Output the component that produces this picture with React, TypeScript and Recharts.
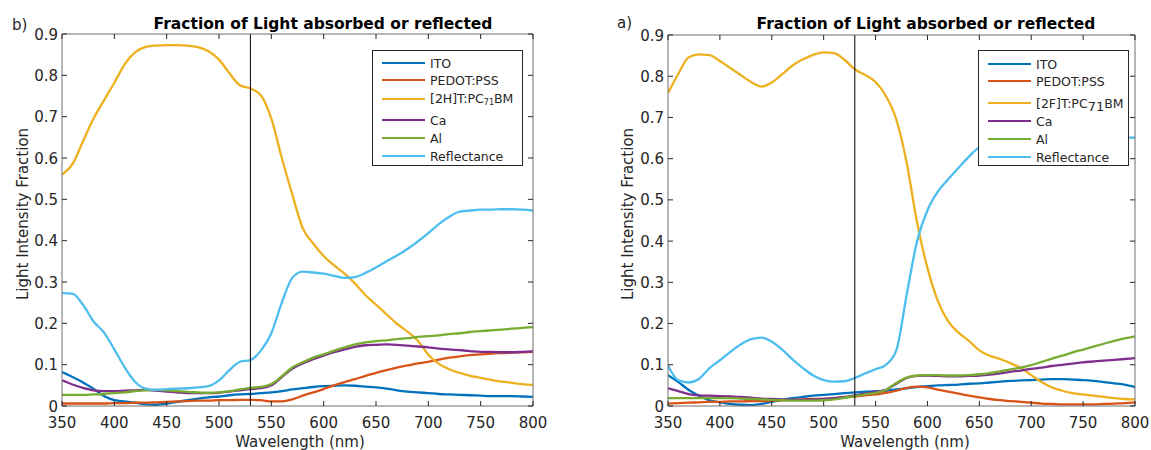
import React from "react";
import { LineChart, Line, XAxis, YAxis, ReferenceLine } from "recharts";

// wavelength grid (nm)
const wavelength = [
  350, 360, 370, 380, 390, 400, 410, 420, 430, 440,
  450, 460, 470, 480, 490, 500, 510, 520, 530, 540,
  550, 560, 570, 580, 590, 600, 610, 620, 630, 640,
  650, 660, 670, 680, 690, 700, 710, 720, 730, 740,
  750, 760, 770, 780, 790, 800,
];

// panel b) [2H]T:PC71BM
const itoB = [
  0.082, 0.070, 0.057, 0.042, 0.024, 0.014, 0.011, 0.008, 0.004, 0.003,
  0.006, 0.010, 0.014, 0.018, 0.021, 0.023, 0.026, 0.028, 0.029, 0.031,
  0.033, 0.036, 0.040, 0.043, 0.046, 0.048, 0.049, 0.050, 0.049, 0.047,
  0.045, 0.042, 0.038, 0.035, 0.033, 0.031, 0.029, 0.028, 0.027, 0.026,
  0.025, 0.024, 0.024, 0.024, 0.023, 0.022,
];
const pedotB = [
  0.006, 0.006, 0.006, 0.006, 0.006, 0.007, 0.007, 0.008, 0.008, 0.009,
  0.010, 0.011, 0.012, 0.013, 0.013, 0.014, 0.014, 0.015, 0.015, 0.014,
  0.011, 0.011, 0.016, 0.025, 0.033, 0.041, 0.050, 0.058, 0.065, 0.073,
  0.080, 0.087, 0.093, 0.098, 0.103, 0.107, 0.112, 0.117, 0.120, 0.123,
  0.125, 0.127, 0.128, 0.129, 0.130, 0.131,
];
const activeB = [
  0.560, 0.585, 0.640, 0.695, 0.739, 0.782, 0.827, 0.856, 0.869, 0.872,
  0.873, 0.873, 0.872, 0.868, 0.858, 0.838, 0.805, 0.776, 0.768, 0.752,
  0.695, 0.600, 0.512, 0.430, 0.393, 0.363, 0.340, 0.320, 0.296, 0.268,
  0.245, 0.222, 0.199, 0.180, 0.158, 0.124, 0.102, 0.089, 0.080, 0.073,
  0.068, 0.063, 0.059, 0.056, 0.053, 0.051,
];
const caB = [
  0.062, 0.052, 0.044, 0.038, 0.036, 0.036, 0.037, 0.038, 0.039, 0.037,
  0.035, 0.033, 0.031, 0.031, 0.031, 0.032, 0.035, 0.038, 0.041, 0.043,
  0.050, 0.070, 0.090, 0.103, 0.113, 0.122, 0.130, 0.137, 0.143, 0.147,
  0.148, 0.149, 0.148, 0.146, 0.144, 0.142, 0.139, 0.137, 0.135, 0.133,
  0.131, 0.131, 0.130, 0.130, 0.131, 0.132,
];
const alB = [
  0.027, 0.027, 0.027, 0.028, 0.029, 0.031, 0.033, 0.036, 0.038, 0.039,
  0.038, 0.036, 0.034, 0.033, 0.032, 0.033, 0.036, 0.040, 0.044, 0.046,
  0.053, 0.072, 0.093, 0.106, 0.117, 0.125, 0.134, 0.142, 0.149, 0.154,
  0.157, 0.159, 0.162, 0.164, 0.167, 0.169, 0.171, 0.174, 0.176, 0.179,
  0.181, 0.183, 0.185, 0.187, 0.189, 0.191,
];
const reflB = [
  0.273, 0.272, 0.245, 0.205, 0.178, 0.137, 0.093, 0.058, 0.042, 0.039,
  0.041, 0.042, 0.043, 0.045, 0.048, 0.062, 0.087, 0.107, 0.111, 0.134,
  0.176, 0.250, 0.310, 0.325, 0.323, 0.320, 0.315, 0.310, 0.312, 0.322,
  0.335, 0.350, 0.364, 0.380, 0.398, 0.418, 0.440, 0.458, 0.470, 0.473,
  0.475, 0.475, 0.476, 0.476, 0.475, 0.473,
];

// panel a) [2F]T:PC71BM
const itoA = [
  0.075, 0.058, 0.039, 0.025, 0.014, 0.009, 0.005, 0.003, 0.002, 0.005,
  0.010, 0.015, 0.019, 0.022, 0.025, 0.027, 0.029, 0.031, 0.033, 0.035,
  0.036, 0.037, 0.040, 0.043, 0.046, 0.048, 0.050, 0.051, 0.052, 0.054,
  0.055, 0.057, 0.059, 0.061, 0.062, 0.063, 0.064, 0.065, 0.065, 0.064,
  0.063, 0.061, 0.058, 0.055, 0.052, 0.046,
];
const pedotA = [
  0.006, 0.007, 0.008, 0.009, 0.010, 0.010, 0.011, 0.011, 0.012, 0.012,
  0.013, 0.014, 0.015, 0.016, 0.017, 0.017, 0.019, 0.021, 0.023, 0.026,
  0.028, 0.032, 0.037, 0.044, 0.047, 0.045, 0.040, 0.035, 0.030, 0.025,
  0.021, 0.017, 0.014, 0.012, 0.010, 0.008, 0.006, 0.005, 0.004, 0.004,
  0.004, 0.004, 0.005, 0.006, 0.007, 0.009,
];
const activeA = [
  0.759, 0.806, 0.846, 0.853, 0.851, 0.837, 0.820, 0.803, 0.786, 0.775,
  0.785, 0.805, 0.826, 0.841, 0.852, 0.858, 0.856, 0.840, 0.817, 0.803,
  0.786, 0.752, 0.695, 0.590, 0.445, 0.335, 0.255, 0.205, 0.178, 0.158,
  0.135, 0.122, 0.114, 0.104, 0.092, 0.075, 0.058, 0.045, 0.037, 0.031,
  0.028, 0.025, 0.022, 0.019, 0.017, 0.016,
];
const caA = [
  0.043, 0.036, 0.029, 0.026, 0.025, 0.024, 0.023, 0.022, 0.020, 0.018,
  0.017, 0.016, 0.015, 0.015, 0.016, 0.017, 0.019, 0.022, 0.026, 0.030,
  0.034, 0.039, 0.054, 0.068, 0.073, 0.074, 0.073, 0.072, 0.072, 0.073,
  0.074, 0.076, 0.079, 0.083, 0.086, 0.090, 0.093, 0.097, 0.100, 0.103,
  0.106, 0.108, 0.110, 0.112, 0.114, 0.116,
];
const alA = [
  0.019, 0.019, 0.019, 0.019, 0.019, 0.019, 0.019, 0.018, 0.017, 0.016,
  0.015, 0.014, 0.013, 0.013, 0.013, 0.014, 0.016, 0.020, 0.024, 0.028,
  0.032, 0.039, 0.056, 0.069, 0.074, 0.075, 0.075, 0.074, 0.074, 0.075,
  0.077, 0.080, 0.084, 0.089, 0.093, 0.099, 0.107, 0.115, 0.122, 0.130,
  0.137, 0.144, 0.151, 0.158, 0.164, 0.169,
];
const reflA = [
  0.098, 0.062, 0.057, 0.066, 0.092, 0.111, 0.131, 0.149, 0.162, 0.166,
  0.156, 0.137, 0.113, 0.092, 0.074, 0.063, 0.059, 0.060, 0.068, 0.079,
  0.089, 0.100, 0.135, 0.270, 0.400, 0.475, 0.520, 0.550, 0.578, 0.605,
  0.628, 0.638, 0.644, 0.648, 0.650, 0.651, 0.651, 0.651, 0.651, 0.651,
  0.651, 0.651, 0.651, 0.651, 0.651, 0.651,
];

const xTicks = [350, 400, 450, 500, 550, 600, 650, 700, 750, 800];
const yTicks = [0, 0.1, 0.2, 0.3, 0.4, 0.5, 0.6, 0.7, 0.8, 0.9];
const seriesColors = ["#0072BD", "#D95319", "#EDB120", "#7E2F8E", "#77AC30", "#4DBEEE"];
const cutWavelength = 530;

const FONT = "DejaVu Sans, Verdana, sans-serif";
const AXIS = "#6e6e6e";
const TEXT = "#262626";

function buildRows(cols: number[][]) {
  return wavelength.map((wl, i) => {
    const row: Record<string, number> = { wl };
    cols.forEach((c, k) => (row["s" + k] = c[i]));
    return row;
  });
}

const BottomTick = (p: any) => (
  <g>
    <line x1={p.x} x2={p.x} y1={p.y} y2={p.y - 5} stroke={TEXT} />
    <text x={p.x} y={p.y + 21.5} textAnchor="middle" fontSize={15} fill={TEXT} fontFamily={FONT}>
      {p.payload.value}
    </text>
  </g>
);
const TopTick = (p: any) => <line x1={p.x} x2={p.x} y1={p.y} y2={p.y + 5} stroke={TEXT} />;
const LeftTick = (p: any) => (
  <g>
    <line x1={p.x} x2={p.x + 5} y1={p.y} y2={p.y} stroke={TEXT} />
    <text x={p.x - 4} y={p.y + 5.5} textAnchor="end" fontSize={15} fill={TEXT} fontFamily={FONT}>
      {String(Math.round(p.payload.value * 10) / 10)}
    </text>
  </g>
);
const RightTick = (p: any) => <line x1={p.x} x2={p.x - 5} y1={p.y} y2={p.y} stroke={TEXT} />;

interface PanelProps {
  left: number;
  width: number;
  margin: { top: number; right: number; bottom: number; left: number };
  rows: Record<string, number>[];
}

// axes are 1px wide/high so Recharts still draws them; margins set the plot box
function Panel({ left, width, margin, rows }: PanelProps) {
  return (
    <div style={{ position: "absolute", left, top: 0 }}>
      <LineChart width={width} height={450} data={rows} margin={margin}>
        <XAxis dataKey="wl" type="number" domain={[350, 800]} ticks={xTicks} interval={0}
          height={1} tickSize={0} tickMargin={0} tickLine={false} tick={<BottomTick />}
          axisLine={{ stroke: AXIS }} allowDataOverflow />
        <XAxis xAxisId="top" orientation="top" dataKey="wl" type="number" domain={[350, 800]}
          ticks={xTicks} interval={0} height={1} tickSize={0} tickMargin={0} tickLine={false}
          tick={<TopTick />} axisLine={{ stroke: AXIS }} allowDataOverflow />
        <YAxis type="number" domain={[0, 0.9]} ticks={yTicks} interval={0} width={1}
          tickSize={0} tickMargin={0} tickLine={false} tick={<LeftTick />}
          axisLine={{ stroke: AXIS }} allowDataOverflow />
        <YAxis yAxisId="right" orientation="right" type="number" domain={[0, 0.9]} ticks={yTicks}
          interval={0} width={1} tickSize={0} tickMargin={0} tickLine={false} tick={<RightTick />}
          axisLine={{ stroke: AXIS }} allowDataOverflow />
        {seriesColors.map((c, k) => (
          <Line key={k} dataKey={"s" + k} type="monotone" stroke={c} strokeWidth={2.3}
            dot={false} activeDot={false} isAnimationActive={false} />
        ))}
        <ReferenceLine x={cutWavelength} stroke="#000" strokeWidth={1} />
      </LineChart>
    </div>
  );
}

function LegendBox({ left, labels, rowY, lineX }: { left: number; labels: React.ReactNode[]; rowY: number[]; lineX: number }) {
  return (
    <div style={{
      position: "absolute", left, top: 50, width: 151, height: 116, boxSizing: "border-box",
      background: "#fff", border: "1px solid #262626", fontFamily: FONT, fontSize: 12.5, color: TEXT,
    }}>
      {labels.map((lab, k) => (
        <div key={k} style={{ position: "absolute", left: 0, top: rowY[k] - 9, height: 18, display: "flex", alignItems: "center", whiteSpace: "nowrap" }}>
          <div style={{ marginLeft: lineX, width: 43, height: 2.3, background: seriesColors[k] }} />
          <div style={{ marginLeft: 5 }}>{lab}</div>
        </div>
      ))}
    </div>
  );
}

const labelsB = [
  "ITO", "PEDOT:PSS",
  <span>[2H]T:PC<sub style={{ fontSize: 8, verticalAlign: "-2px" }}>71</sub>BM</span>,
  "Ca", "Al", "Reflectance",
];
const labelsA = [
  "ITO", "PEDOT:PSS",
  <span>[2F]T:PC<span style={{ fontSize: 13, position: "relative", top: 3 }}>71</span>BM</span>,
  "Ca", "Al", "Reflectance",
];

export default function App() {
  const rowsB = buildRows([itoB, pedotB, activeB, caB, alB, reflB]);
  const rowsA = buildRows([itoA, pedotA, activeA, caA, alA, reflA]);
  return (
    <div style={{ position: "absolute", left: 0, top: 0, width: 1151, height: 450, background: "#fff", overflow: "hidden" }}>
      <Panel left={0} width={580} margin={{ top: 33, right: 46, bottom: 43, left: 61 }} rows={rowsB} />
      <Panel left={580} width={571} margin={{ top: 34, right: 15, bottom: 43, left: 87 }} rows={rowsA} />
      <svg width={1151} height={450} style={{ position: "absolute", left: 0, top: 0, pointerEvents: "none" }} fontFamily={FONT} fill={TEXT}>
        <text x={12} y={30} fontSize={15}>b)</text>
        <text x={323} y={29} fontSize={15.5} fontWeight="bold" textAnchor="middle" fill="#000">Fraction of Light absorbed or reflected</text>
        <text x={300} y={447} fontSize={15} textAnchor="middle">Wavelength (nm)</text>
        <text transform="translate(28,214) rotate(-90)" fontSize={15} textAnchor="middle">Light Intensity Fraction</text>
        <text x={617} y={28} fontSize={15}>a)</text>
        <text x={926} y={29} fontSize={15.5} fontWeight="bold" textAnchor="middle" fill="#000">Fraction of Light absorbed or reflected</text>
        <text x={905} y={447} fontSize={15} textAnchor="middle">Wavelength (nm)</text>
        <text transform="translate(633,214) rotate(-90)" fontSize={15} textAnchor="middle">Light Intensity Fraction</text>
      </svg>
      <LegendBox left={372} labels={labelsB} rowY={[12, 29, 48, 69, 87, 105]} lineX={9} />
      <LegendBox left={978} labels={labelsA} rowY={[13, 30, 52, 70, 88, 106]} lineX={9} />
    </div>
  );
}
